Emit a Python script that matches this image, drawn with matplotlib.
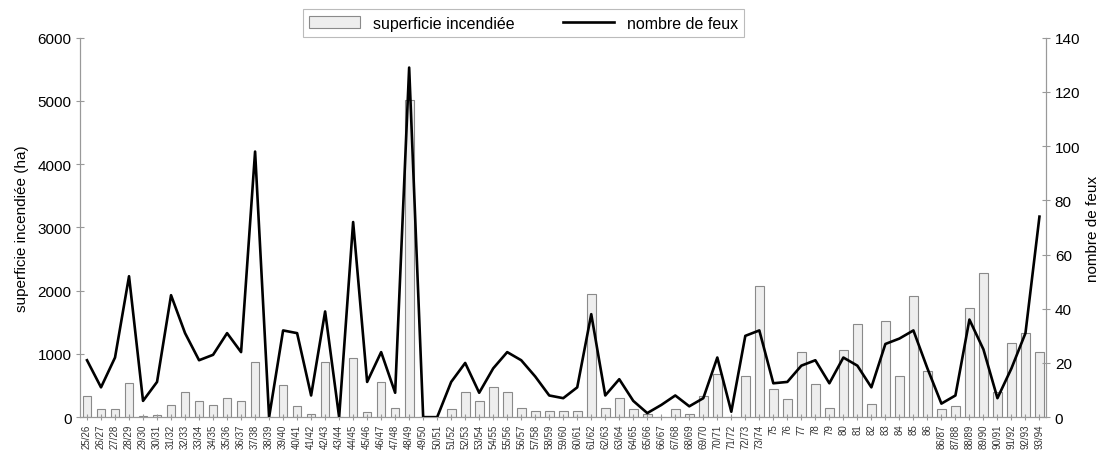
import matplotlib.pyplot as plt
import numpy as np

plt.rcParams['font.family'] = ['Liberation Sans', 'DejaVu Sans']

# campagnes (saisons) de 25/26 a 93/94
saisons = ['25/26', '26/27', '27/28', '28/29', '29/30', '30/31', '31/32', '32/33',
           '33/34', '34/35', '35/36', '36/37', '37/38', '38/39', '39/40', '40/41',
           '41/42', '42/43', '43/44', '44/45', '45/46', '46/47', '47/48', '48/49',
           '49/50', '50/51', '51/52', '52/53', '53/54', '54/55', '55/56', '56/57',
           '57/58', '58/59', '59/60', '60/61', '61/62', '62/63', '63/64', '64/65',
           '65/66', '66/67', '67/68', '68/69', '69/70', '70/71', '71/72', '72/73',
           '73/74', '75', '76', '77', '78', '79', '80', '81', '82', '83', '84',
           '85', '86', '86/87', '87/88', '88/89', '89/90', '90/91', '91/92',
           '92/93', '93/94']

# superficie incendiee (ha)
superficie = [340, 130, 130, 540, 15, 35, 195, 390, 255, 195, 305, 255, 865, 0,
              505, 180, 50, 880, 0, 935, 75, 550, 150, 5010, 0, 0, 130, 390,
              260, 470, 390, 150, 100, 100, 100, 100, 1940, 150, 310, 135, 45,
              10, 125, 50, 340, 680, 10, 655, 2070, 445, 285, 1025, 520, 150,
              1065, 1470, 205, 1515, 655, 1910, 725, 130, 180, 1725, 2275, 400,
              1170, 1325, 1035]

# nombre de feux
feux = [21, 11, 22, 52, 6, 13, 45, 31, 21, 23, 31, 24, 98, 0, 32, 31, 8, 39,
        0, 72, 13, 24, 9, 129, 0, 0, 13, 20, 9, 18, 24, 21, 15, 8, 7, 11, 38,
        8, 14, 6, 1.5, 4.5, 8, 4, 7, 22, 2, 30, 32, 12.5, 13, 19, 21, 12.5,
        22, 19, 11, 27, 29, 32, 18, 5, 8, 36, 25, 7, 18, 31, 74]

x = np.arange(len(saisons))

fig = plt.figure(figsize=(11.02, 4.56), dpi=100)
ax = fig.add_axes([0.0726, 0.083, 0.877, 0.832])
ax2 = ax.twinx()

barres = ax.bar(x, superficie, width=0.62, color='#eeeeee', edgecolor='#8a8a8a',
                linewidth=0.8, label='superficie incendiée')
ligne, = ax2.plot(x, feux, color='black', linewidth=1.9, label='nombre de feux')

ax.set_xlim(-0.5, len(saisons) - 0.5)
ax.set_ylim(0, 6000)
ax2.set_ylim(0, 140)
ax.set_yticks(range(0, 6001, 1000))
ax2.set_yticks(range(0, 141, 20))

ax.set_xticks(x)
ax.set_xticklabels(saisons, rotation=90, fontsize=7, color='#333333')

for a in (ax, ax2):
    a.spines['top'].set_visible(False)
    for s in ('left', 'right', 'bottom'):
        a.spines[s].set_color('#999999')
        a.spines[s].set_linewidth(0.8)
    a.tick_params(axis='y', direction='inout', length=6, color='#999999',
                  labelsize=11, pad=3)
ax.tick_params(axis='x', direction='inout', length=5, color='#999999', pad=2)

ax.set_ylabel('superficie incendiée (ha)', fontsize=11, labelpad=6)
ax2.set_ylabel('nombre de feux', fontsize=11, labelpad=4)

leg = fig.legend(handles=[barres, ligne], loc='upper center', ncol=2,
                 bbox_to_anchor=(0.475, 0.995), fontsize=11.5, frameon=True,
                 fancybox=False, edgecolor='#aaaaaa', handlelength=3.2,
                 columnspacing=3.0, borderpad=0.4)
leg.get_frame().set_linewidth(0.8)

fig.savefig('out.png', dpi=100)
